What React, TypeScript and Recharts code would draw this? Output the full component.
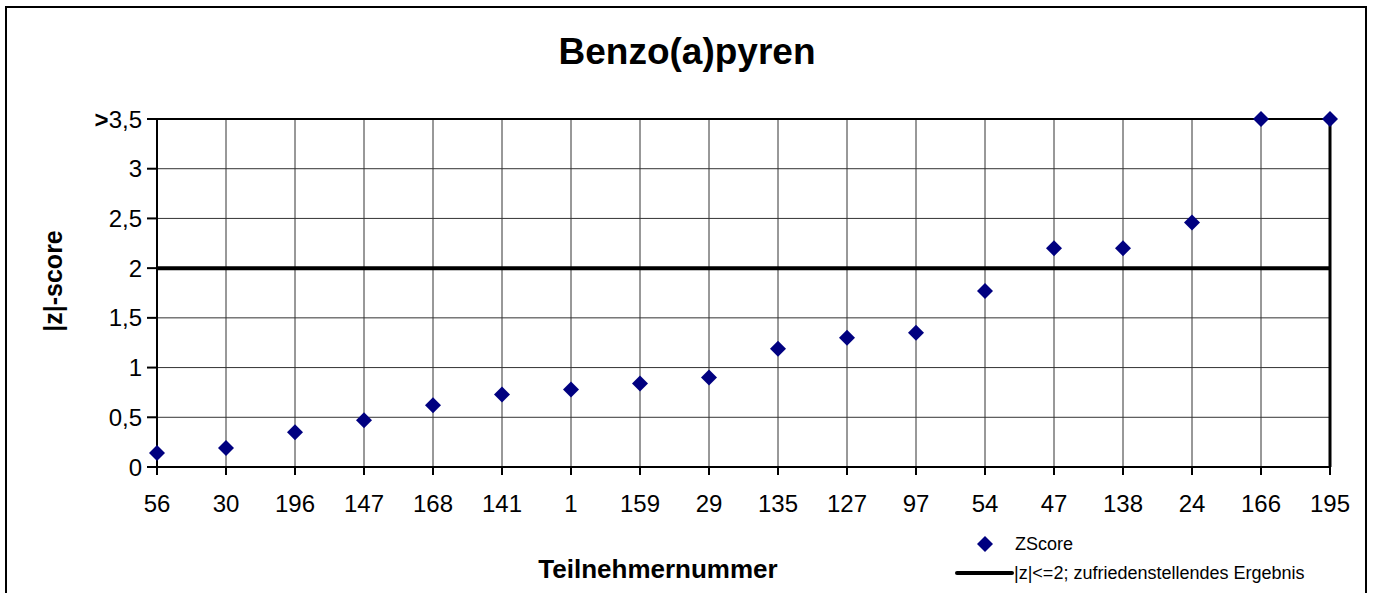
import React from "react";
import {
  ComposedChart,
  Scatter,
  XAxis,
  YAxis,
  CartesianGrid,
  ReferenceLine,
} from "recharts";

const participants = [
  "56", "30", "196", "147", "168", "141", "1", "159", "29",
  "135", "127", "97", "54", "47", "138", "24", "166", "195",
];
const zScores = [
  0.14, 0.19, 0.35, 0.47, 0.62, 0.73, 0.78, 0.84, 0.9,
  1.19, 1.3, 1.35, 1.77, 2.2, 2.2, 2.46, 3.5, 3.5,
];
const yTicks = [0, 0.5, 1, 1.5, 2, 2.5, 3, 3.5];
const limit = 2;

const data = participants.map((p, i) => ({ id: p, z: zScores[i] }));

const FONT = "'Liberation Sans', Arial, sans-serif";
const NAVY = "#000080";

const Diamond = (props: any) => {
  const { cx, cy } = props;
  if (cx == null || cy == null) return null;
  const r = 8;
  return (
    <path
      d={`M${cx},${cy - r}L${cx + r},${cy}L${cx},${cy + r}L${cx - r},${cy}Z`}
      fill={NAVY}
    />
  );
};

const YTick = (props: any) => {
  const { x, y, payload } = props;
  const v = payload.value as number;
  const label = String(v).replace(".", ",");
  return (
    <text
      x={x}
      y={y}
      textAnchor="end"
      dominantBaseline="central"
      fontSize={24}
      fontFamily={FONT}
      fill="#000"
    >
      {v === yTicks[yTicks.length - 1] ? (
        <>
          <tspan fontWeight="bold">&gt;</tspan>
          {label}
        </>
      ) : (
        label
      )}
    </text>
  );
};

export default function App() {
  return (
    <div
      style={{
        position: "absolute",
        left: 0,
        top: 0,
        width: 1374,
        height: 593,
        background: "#fff",
        fontFamily: FONT,
        overflow: "hidden",
      }}
    >
      <div
        style={{
          position: "absolute",
          left: 5,
          top: 6,
          width: 1358,
          height: 600,
          border: "2px solid #000",
        }}
      />
      <div
        style={{
          position: "absolute",
          left: 0,
          top: 32,
          width: 1374,
          textAlign: "center",
          fontSize: 37,
          lineHeight: "40px",
          fontWeight: "bold",
        }}
      >
        Benzo(a)pyren
      </div>
      <div
        style={{
          position: "absolute",
          left: 53,
          top: 281,
          transform: "translate(-50%, -50%) rotate(-90deg)",
          fontSize: 25,
          fontWeight: "bold",
          whiteSpace: "nowrap",
        }}
      >
        |z|-score
      </div>
      <div
        style={{
          position: "absolute",
          left: 658,
          top: 569,
          transform: "translate(-50%, -50%)",
          fontSize: 26,
          fontWeight: "bold",
          whiteSpace: "nowrap",
        }}
      >
        Teilnehmernummer
      </div>

      <div style={{ position: "absolute", left: 0, top: 0 }}>
        <ComposedChart
          width={1374}
          height={593}
          data={data}
          margin={{ top: 119, right: 44, bottom: 66, left: 97 }}
        >
          <CartesianGrid stroke="#333" strokeWidth={1} />
          <XAxis
            dataKey="id"
            type="category"
            scale="point"
            padding={{ left: 0, right: 0 }}
            height={60}
            tickSize={8}
            tickMargin={20}
            stroke="#000"
            strokeWidth={2}
            interval={0}
            tick={{ fontSize: 24, fontFamily: FONT, fill: "#000" }}
          />
          <YAxis
            type="number"
            domain={[0, 3.5]}
            ticks={yTicks}
            width={60}
            tickSize={10}
            tickMargin={5}
            stroke="#000"
            strokeWidth={2}
            tick={<YTick />}
          />
          <ReferenceLine y={yTicks[yTicks.length - 1]} stroke="#000" strokeWidth={2} />
          <ReferenceLine x={participants[participants.length - 1]} stroke="#000" strokeWidth={3} />
          <ReferenceLine y={limit} stroke="#000" strokeWidth={4} />
          <Scatter dataKey="z" shape={<Diamond />} isAnimationActive={false} />
        </ComposedChart>
      </div>

      <svg
        style={{ position: "absolute", left: 0, top: 0 }}
        width={1374}
        height={593}
        pointerEvents="none"
      >
        <path d="M985,536L993,544L985,552L977,544Z" fill={NAVY} />
        <text x={1015} y={544} dominantBaseline="central" fontSize={18} fontFamily={FONT}>
          ZScore
        </text>
        <line x1={957} y1={573} x2={1012} y2={573} stroke="#000" strokeWidth={4} strokeLinecap="round" />
        <text x={1014} y={573} dominantBaseline="central" fontSize={18} fontFamily={FONT}>
          |z|&lt;=2; zufriedenstellendes Ergebnis
        </text>
      </svg>
    </div>
  );
}
